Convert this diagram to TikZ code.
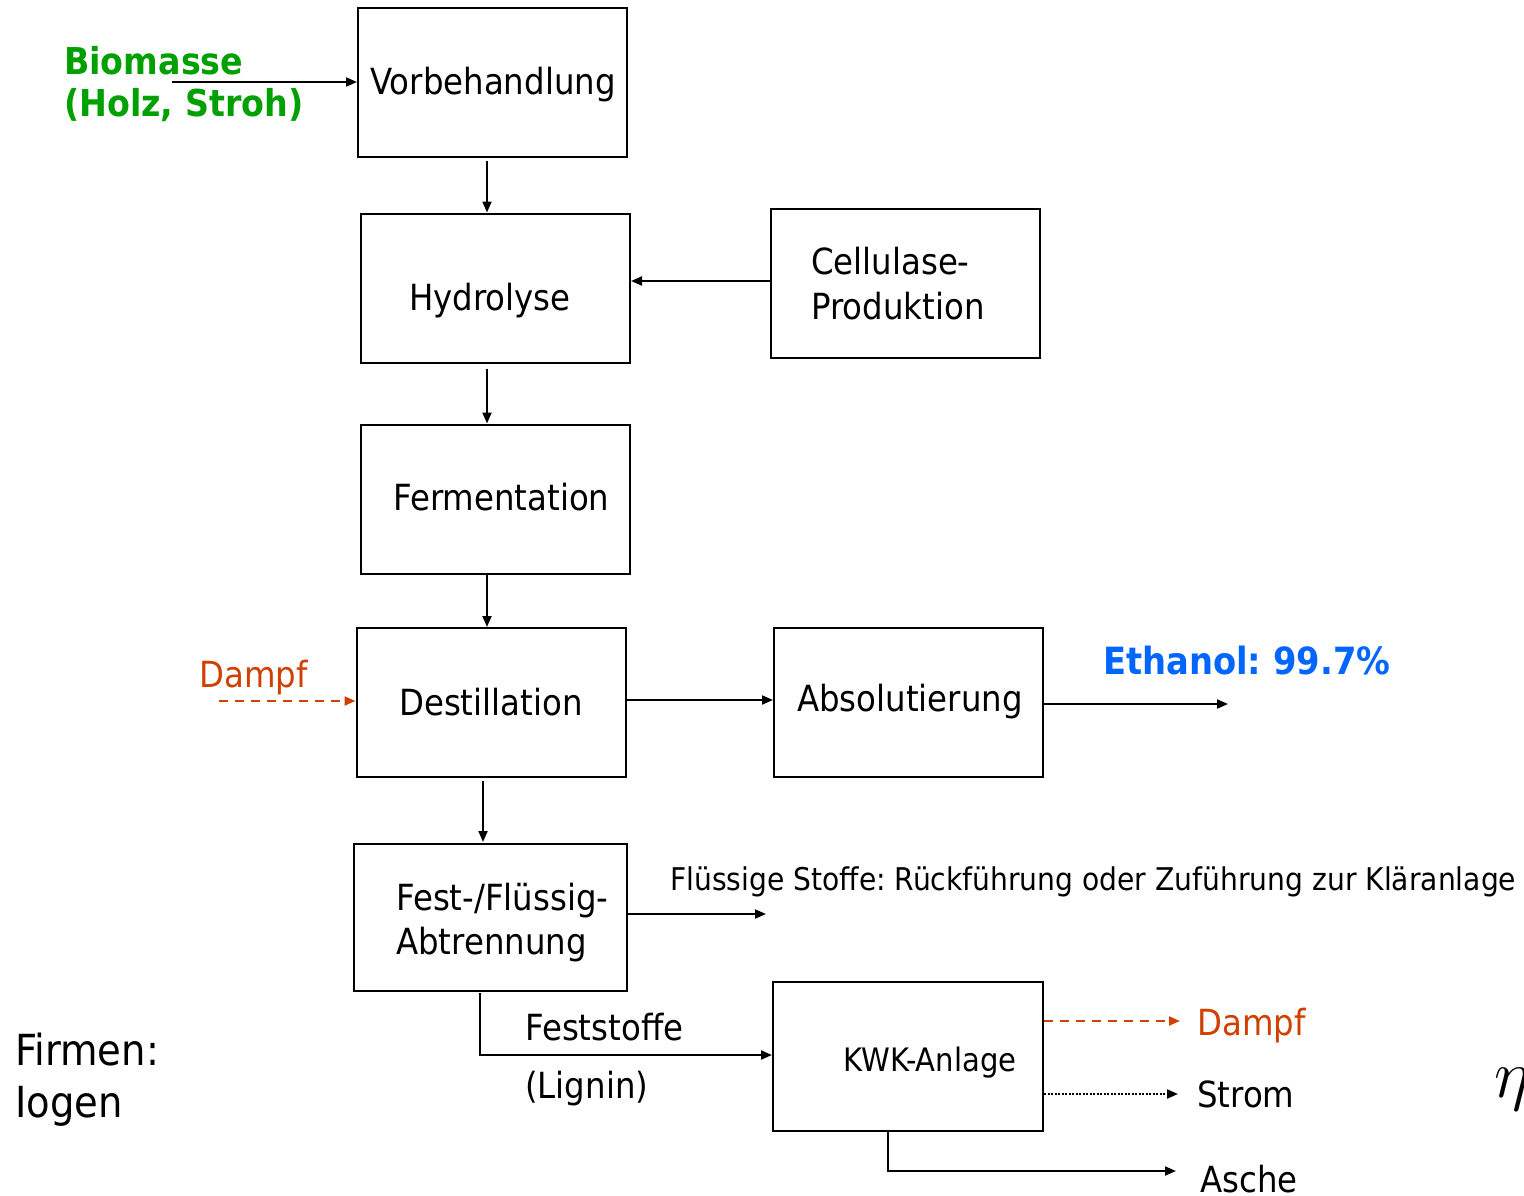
\RequirePackage{fix-cm}
\documentclass[tikz,border=0pt]{standalone}
\usepackage{fontspec}
\setmainfont{DejaVu Sans}[FakeStretch=0.9]
\usetikzlibrary{arrows.meta,calc}
\definecolor{bmgreen}{RGB}{0,160,0}
\definecolor{etblue}{RGB}{0,102,255}
\definecolor{steam}{RGB}{208,64,0}
\frenchspacing
\begin{document}
\begin{tikzpicture}[x=1pt,y=-1pt,
  box/.style={draw, line width=2pt, minimum width=269pt, minimum height=149pt, inner sep=0pt},
  lbl/.style={inner sep=0pt, anchor=base west, font=\fontsize{36}{43}\selectfont},
  small/.style={lbl, font=\fontsize{32.3}{38}\selectfont},
  note/.style={lbl, font=\fontsize{31.3}{37}\selectfont},
  arr/.style={line width=2pt, -{Triangle[length=11pt,width=9pt]}},
  steamarr/.style={arr, steam, dash pattern=on 9pt off 7pt},
  powerarr/.style={arr, dash pattern=on 2pt off 1.5pt}]
\clip (0,0) rectangle (1524,1196);
\fill[white] (0,0) rectangle (1524,1196);

% process boxes
\node[box] (vor) at (492.5,82.5) {};
\node[box] (hyd) at (495.5,288) {};
\node[box] (cel) at (905.5,283) {};
\node[box] (fer) at (495.5,499) {};
\node[box] (des) at (491,702.5) {};
\node[box] (abs) at (908.5,702.5) {};
\node[box, minimum width=273pt, minimum height=147pt] (fes) at (490.5,917.5) {};
\node[box, minimum width=270pt] (kwk) at (908,1056.5) {};

% box labels
\node[lbl] (tvor) at (370,95) {Vorbehandlung};
\node[lbl] (thyd) at (409,310) {Hydrolyse};
\node[lbl] (tcel1) at (811,274) {Cellulase-};
\node[lbl] (tcel2) at (811,319) {Produktion};
\node[lbl] (tfer) at (393,510) {Fermentation};
\node[lbl] (tdes) at (399,715) {Destillation};
\node[lbl] (tabs) at (797,711) {Absolutierung};
\node[lbl] (tfes1) at (396,910) {Fest-/Flüssig-};
\node[lbl] (tfes2) at (396,954) {Abtrennung};
\node[small] (tkwk) at (843,1071) {KWK-Anlage};

% feed
\node[lbl, font=\fontsize{37}{44}\selectfont\bfseries, text=bmgreen] (bio1) at (64,75) {Biomasse};
\node[lbl, font=\fontsize{37}{44}\selectfont\bfseries, text=bmgreen] (bio2) at (64,117) {(Holz, Stroh)};
\coordinate (feed) at (172,82);
\draw[arr] (feed) -- (vor.west |- feed);

% main chain
\coordinate (ax1) at (487,0);
\coordinate (ax2) at (483,0);
\draw[arr] ([yshift=-3pt]vor.south -| ax1) -- (hyd.north -| ax1);
\draw[arr] ([yshift=-5pt]hyd.south -| ax1) -- (fer.north -| ax1);
\draw[arr] (fer.south -| ax1) -- (des.north -| ax1);
\draw[arr] ([yshift=-3pt]des.south -| ax2) -- ([yshift=1pt]fes.north -| ax2);

% enzyme supply
\coordinate (r1) at (0,281);
\draw[arr] (cel.west |- r1) -- (hyd.east |- r1);

% steam into distillation
\node[lbl, text=steam] (dampf1) at (199,687) {Dampf};
\coordinate (s1) at (219,701);
\draw[steamarr] (s1) -- (des.west |- s1);

% product line
\coordinate (r2) at (0,700);
\draw[arr] (des.east |- r2) -- (abs.west |- r2);
\coordinate (eth) at (1228,704);
\draw[arr] (abs.east |- eth) -- (eth);
\node[lbl, font=\fontsize{37.5}{44}\selectfont\bfseries, text=etblue] (teth) at (1103,674) {Ethanol: 99.7\%};

% liquid residues
\coordinate (liq) at (766,914);
\draw[arr] (fes.east |- liq) -- (liq);
\node[note] (tliq) at (670,890) {Flüssige Stoffe: Rückführung oder Zuführung zur Kläranlage};

% solids to CHP
\coordinate (sol) at (480,1055);
\draw[arr] ([yshift=-1pt]fes.south -| sol) |- (kwk.west |- sol);
\node[lbl] (tsol1) at (525,1040) {Feststoffe};
\node[lbl] (tsol2) at (525,1098) {(Lignin)};

% CHP outputs
\coordinate (o1) at (1180,1021);
\coordinate (o2) at (1178,1094);
\coordinate (o3) at (1176,1171);
\coordinate (ax3) at (888,0);
\draw[steamarr] (kwk.east |- o1) -- (o1);
\draw[powerarr] (kwk.east |- o2) -- (o2);
\draw[arr] (kwk.south -| ax3) |- (o3);
\node[lbl, text=steam] (dampf2) at (1197,1035) {Dampf};
\node[lbl] (strom) at (1197,1107) {Strom};
\node[lbl] (asche) at (1200,1192) {Asche};

% companies
\node[lbl, font=\fontsize{42.8}{50}\selectfont] (firm1) at (15,1065) {Firmen:};
\node[lbl, font=\fontsize{42.8}{50}\selectfont] (firm2) at (15,1117) {Iogen};

% efficiency symbol
\node[inner sep=0pt, anchor=base west, font=\fontsize{68}{70}\selectfont] (eta) at (1494,1097) {$\eta$};
\end{tikzpicture}
\end{document}
